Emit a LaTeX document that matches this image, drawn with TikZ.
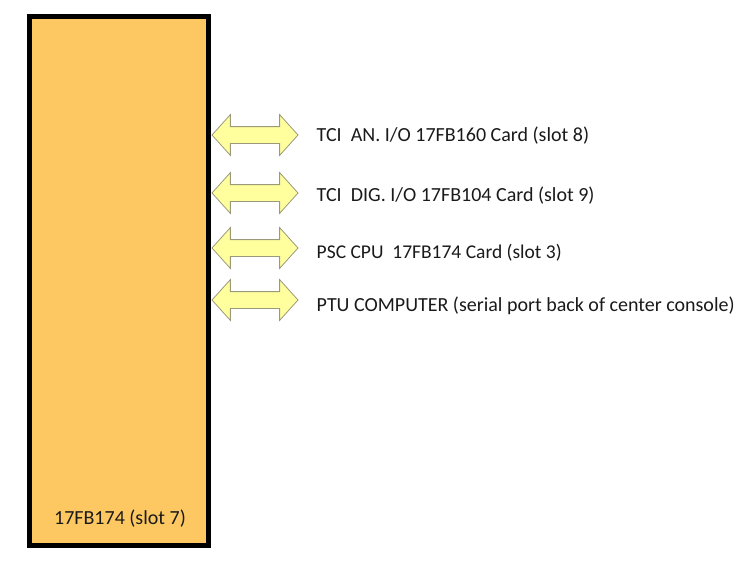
\documentclass[tikz,border=0pt]{standalone}
\usepackage{fontspec}
\setmainfont{Carlito}
\usetikzlibrary{shapes.arrows, positioning}
\definecolor{cardOrange}{HTML}{FDC862}
\definecolor{linkYellow}{HTML}{FFFF9E}
\definecolor{linkGrey}{HTML}{9A9A7A}
\definecolor{textBlack}{HTML}{1A1A1A}

\begin{document}
\begin{tikzpicture}[
  x=1pt, y=-1pt,
  every node/.style={font=\fontsize{20}{20}\selectfont, text=textBlack},
  cardbox/.style={
    draw=black, line width=5pt, fill=cardOrange,
    minimum width=179pt, minimum height=529pt, inner sep=0pt
  },
  link/.style={
    double arrow, draw=linkGrey, line width=0.8pt, fill=linkYellow,
    minimum height=86pt, inner xsep=0pt, inner ysep=8pt,
    double arrow head extend=12pt, double arrow tip angle=96
  },
  linklabel/.style={anchor=west, inner sep=0pt}
]
\useasboundingbox (0,0) rectangle (737,562);

\node[cardbox] (card) at (119,281) {};
\node[anchor=base] (cardname) at (120,524) {17FB174 (slot 7)};

% links to the other cards
\node[link] (anio) at (255,135) {};
\node[link] (digio) at (255,193) {};
\node[link] (psc) at (255,248) {};
\node[link] (ptu) at (255,300) {};

\node[linklabel, right=18pt of anio, yshift=-1pt] (aniolbl) {TCI\ \ AN. I/O 17FB160 Card (slot 8)};
\node[linklabel, right=18pt of digio, yshift=-3pt] (digiolbl) {TCI\ \ DIG. I/O 17FB104 Card (slot 9)};
\node[linklabel, right=18pt of psc, yshift=-5pt, font=\fontsize{19.5}{19.5}\selectfont] (psclbl) {PSC CPU\ \ 17FB174 Card (slot 3)};
\node[linklabel, right=18pt of ptu, yshift=-6pt] (ptulbl) {PTU COMPUTER (serial port back of center console)};

\end{tikzpicture}
\end{document}
